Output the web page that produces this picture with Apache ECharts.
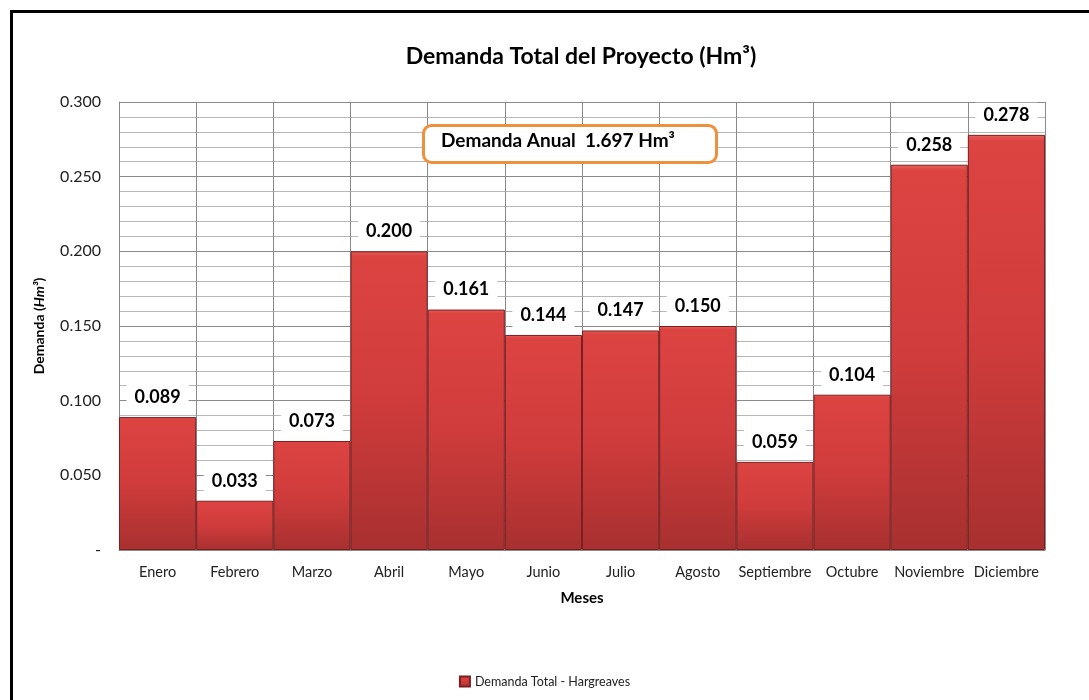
<!DOCTYPE html>
<html>
<head>
<meta charset="utf-8">
<script src="https://cdn.jsdelivr.net/npm/echarts@6/dist/echarts.min.js"></script>
<style>
  html, body { margin: 0; padding: 0; background: #fff; }
  #chart { width: 1089px; height: 700px; }
</style>
</head>
<body>
<div id="chart"></div>
<script>
const meses = ['Enero', 'Febrero', 'Marzo', 'Abril', 'Mayo', 'Junio', 'Julio', 'Agosto', 'Septiembre', 'Octubre', 'Noviembre', 'Diciembre']
const demanda = [0.089, 0.033, 0.073, 0.200, 0.161, 0.144, 0.147, 0.150, 0.059, 0.104, 0.258, 0.278]
const demandaAnual = '1.697'

var myChart = echarts.init(document.getElementById('chart'))
const font = 'Lato, "Open Sans", sans-serif'

const option = {
    textStyle: { fontFamily: font },
    title: {
        text: 'Demanda Total del Proyecto (Hm³)',
        left: 576,
        textAlign: 'center',
        top: 40,
        textStyle: { fontFamily: font, fontSize: 23, fontWeight: 'bold', color: '#000' }
    },
    legend: {
        data: ['Demanda Total - Hargreaves'],
        bottom: 7,
        left: 'center',
        icon: 'rect',
        itemWidth: 10,
        itemHeight: 10,
        itemGap: 4,
        textStyle: { fontFamily: font, fontSize: 12.5, color: '#222' }
    },
    grid: {
        left: 119,
        right: 44,
        top: 102,
        bottom: 150
    },
    xAxis: {
        type: 'category',
        data: meses,
        name: 'Meses',
        nameLocation: 'middle',
        nameGap: 41,
        nameTextStyle: { fontFamily: font, fontSize: 15, fontWeight: 'bold', color: '#000' },
        axisLine: { lineStyle: { color: '#888' } },
        axisTick: { show: false },
        axisLabel: { fontFamily: font, fontSize: 14.5, color: '#222', margin: 15, interval: 0 },
        splitLine: { show: true, interval: 0, lineStyle: { color: '#8a8a8a', width: 1 } }
    },
    yAxis: {
        type: 'value',
        min: 0,
        max: 0.3,
        interval: 0.05,
        name: '{b|Demanda (}{i|Hm³}{b|)}',
        nameLocation: 'middle',
        nameGap: 73,
        nameTextStyle: {
            rich: {
                b: { fontFamily: font, fontSize: 14, fontWeight: 'bold', color: '#000' },
                i: { fontFamily: font, fontSize: 14, fontWeight: 'bold', fontStyle: 'italic', color: '#000' }
            }
        },
        axisLine: { show: true, lineStyle: { color: '#888' } },
        axisTick: { show: false },
        axisLabel: {
            fontFamily: font, fontSize: 16, color: '#222', margin: 18,
            formatter: (v) => v === 0 ? '-' : v.toFixed(3)
        },
        splitLine: { show: true, lineStyle: { color: '#8a8a8a', width: 1 } },
        minorTick: { show: false, splitNumber: 5 },
        minorSplitLine: { show: true, lineStyle: { color: '#b8b8b8', width: 1 } }
    },
    graphic: [
        {
            type: 'rect',
            left: 422,
            top: 124,
            z: 100,
            shape: { width: 293, height: 37, r: 8 },
            style: { fill: '#fff', stroke: '#f0903c', lineWidth: 3 }
        },
        {
            type: 'text',
            left: 441,
            top: 131,
            z: 101,
            style: {
                text: 'Demanda Anual  ' + demandaAnual + ' Hm³',
                font: 'bold 19px ' + font,
                fill: '#000'
            }
        },
        {
            type: 'rect',
            left: 9,
            top: 9,
            z: 100,
            shape: { width: 1300, height: 900 },
            style: { fill: 'none', stroke: '#000', lineWidth: 3 }
        }
    ],
    series: [
        {
            name: 'Demanda Total - Hargreaves',
            type: 'bar',
            data: demanda,
            barCategoryGap: 0,
            itemStyle: {
                color: new echarts.graphic.LinearGradient(0, 0, 0, 1, [
                    { offset: 0, color: '#e8605c' },
                    { offset: 0.015, color: '#dc4442' },
                    { offset: 0.5, color: '#d03c3c' },
                    { offset: 1, color: '#a83030' }
                ]),
                borderColor: '#7a2020',
                borderWidth: 1
            },
            label: {
                show: true,
                position: 'top',
                distance: 8,
                formatter: (p) => p.value.toFixed(3),
                fontFamily: font,
                fontSize: 18,
                fontWeight: 'bold',
                color: '#000',
                backgroundColor: '#fff',
                padding: [3, 8, 3, 8]
            }
        }
    ]
}
myChart.setOption(option)
</script>
</body>
</html>
